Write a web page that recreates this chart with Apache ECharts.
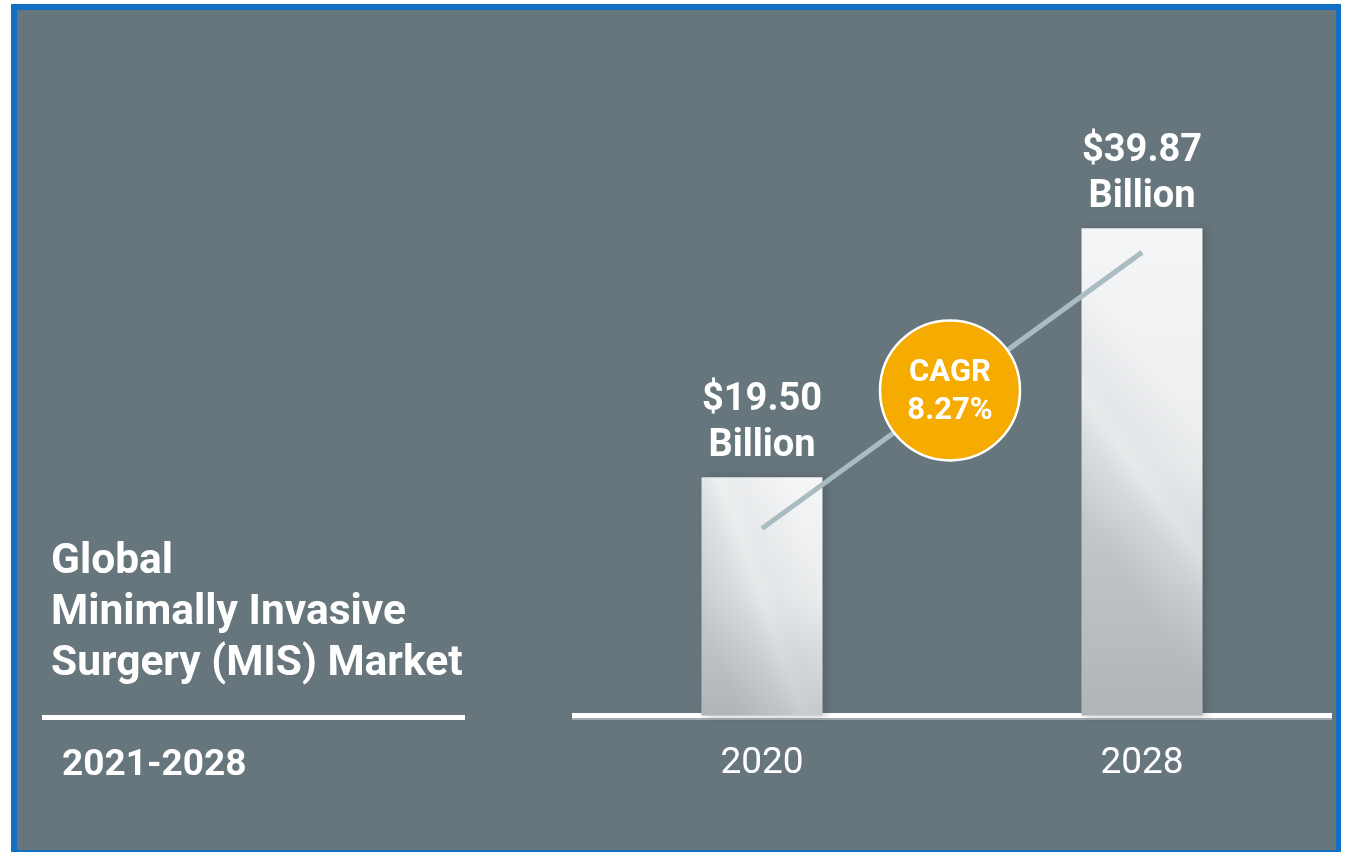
<!DOCTYPE html>
<html>
<head>
<meta charset="utf-8">
<script src="https://cdn.jsdelivr.net/npm/echarts@6/dist/echarts.min.js"></script>
<style>
  html, body { margin: 0; padding: 0; background: #ffffff; }
  #chart { width: 1345px; height: 852px; }
</style>
</head>
<body>
<div id="chart"></div>
<script>
// Market size by year (USD billion)
const categories = ['2020', '2028'];
const marketSize = [19.50, 39.87];
// Decorative growth line drawn across the two bars
const trendLine = [15.3, 37.9];
const cagrLabel = ['CAGR', '8.27%'];
const titleLines = ['Global', 'Minimally Invasive', 'Surgery (MIS) Market'];
const periodLabel = '2021-2028';

const FONT = 'Roboto, "Noto Sans", sans-serif';
const PANEL = '#66767c';

const chart = echarts.init(document.getElementById('chart'), null, { renderer: 'canvas' });

const barFill = new echarts.graphic.LinearGradient(0, 0.6, 1, 0.42, [
  { offset: 0, color: '#cdd1d4' },
  { offset: 0.35, color: '#e0e3e5' },
  { offset: 0.5, color: '#eef0f1' },
  { offset: 0.62, color: '#eaecee' },
  { offset: 1, color: '#f4f5f6' }
]);
const barShade = new echarts.graphic.LinearGradient(0, 0, 0, 1, [
  { offset: 0, color: 'rgba(80,92,98,0)' },
  { offset: 0.5, color: 'rgba(80,92,98,0.05)' },
  { offset: 1, color: 'rgba(80,92,98,0.24)' }
]);

const option = {
  backgroundColor: '#ffffff',
  animation: false,
  title: [
    {
      text: titleLines.join('\n'),
      left: 51, top: 537, padding: 0,
      textStyle: { color: '#ffffff', fontFamily: FONT, fontWeight: 'bold', fontSize: 42.5, lineHeight: 51 }
    },
    {
      text: periodLabel,
      left: 62, top: 745, padding: 0,
      textStyle: { color: '#ffffff', fontFamily: FONT, fontWeight: 'bold', fontSize: 37, lineHeight: 42 }
    }
  ],
  grid: { left: 572, right: 13, top: 104.5, bottom: 136.5 },
  xAxis: {
    type: 'category',
    data: categories,
    axisTick: { show: false },
    axisLine: {
      lineStyle: { color: '#ffffff', width: 5, cap: 'butt', shadowColor: 'rgba(200,210,214,0.6)', shadowOffsetY: 2 }
    },
    axisLabel: { color: '#ffffff', fontFamily: FONT, fontSize: 37, margin: 30 }
  },
  yAxis: { type: 'value', min: 0, max: 50, show: false },
  series: [
    {
      type: 'bar',
      data: marketSize,
      barWidth: 121,
      z: 2,
      itemStyle: {
        color: barFill,
        shadowColor: 'rgba(40,50,55,0.3)',
        shadowBlur: 8,
        shadowOffsetX: 3
      },
      label: {
        show: true,
        position: 'top',
        distance: 8,
        color: '#ffffff',
        fontFamily: FONT,
        fontWeight: 'bold',
        fontSize: 38,
        lineHeight: 46,
        formatter: p => '$' + p.value.toFixed(2) + '\nBillion'
      }
    },
    {
      type: 'bar',
      data: marketSize,
      barWidth: 121,
      barGap: '-100%',
      z: 3,
      silent: true,
      itemStyle: { color: barShade }
    },
    {
      type: 'line',
      data: trendLine,
      z: 5,
      symbol: 'none',
      silent: true,
      lineStyle: { color: '#a9bcc2', width: 5, cap: 'butt' }
    }
  ]
};

chart.setOption(option);

// Panel frame, growth badge and divider
const p0 = chart.convertToPixel({ xAxisIndex: 0, yAxisIndex: 0 }, [0, trendLine[0]]);
const p1 = chart.convertToPixel({ xAxisIndex: 0, yAxisIndex: 0 }, [1, trendLine[1]]);
const cx = (p0[0] + p1[0]) / 2 - 2;
const cy = (p0[1] + p1[1]) / 2;

chart.setOption({
  graphic: [
    { type: 'rect', z: -10, silent: true, shape: { x: 11, y: 4, width: 1330, height: 848 }, style: { fill: '#1170c4' } },
    { type: 'rect', z: -9, silent: true, shape: { x: 17, y: 10, width: 1319, height: 840 }, style: { fill: PANEL } },
    { type: 'line', z: 1, silent: true, shape: { x1: 42, y1: 717.5, x2: 465, y2: 717.5 }, style: { stroke: '#ffffff', lineWidth: 5 } },
    {
      type: 'circle', z: 100, silent: true,
      shape: { cx: cx, cy: cy, r: 70 },
      style: { fill: '#f5ab00', stroke: '#ffffff', lineWidth: 2.5 }
    },
    {
      type: 'text', z: 101, silent: true, x: cx, y: cy + 2,
      style: {
        text: cagrLabel.join('\n'), fill: '#ffffff', align: 'center', verticalAlign: 'middle',
        font: 'bold 31px ' + FONT, lineHeight: 38
      }
    }
  ]
});
</script>
</body>
</html>
